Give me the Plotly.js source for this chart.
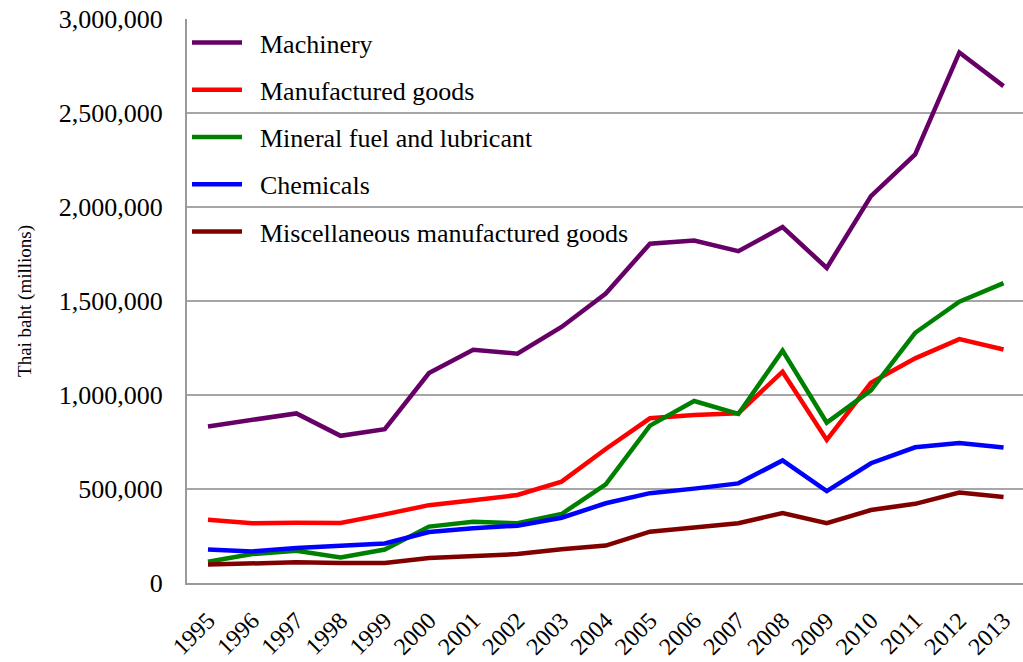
<!DOCTYPE html>
<html>
<head>
<meta charset="utf-8">
<script src="https://cdn.plot.ly/plotly-3.0.1.min.js"></script>
<style>
html,body{margin:0;padding:0;background:#fff;}
#chart{width:1023px;height:662px;}
</style>
</head>
<body>
<div id="chart"></div>
<script>
var years = [1995,1996,1997,1998,1999,2000,2001,2002,2003,2004,2005,2006,2007,2008,2009,2010,2011,2012,2013];
var machinery = [833000,865000,902000,783000,818000,1117000,1240000,1220000,1362000,1540000,1805000,1822000,1765000,1893000,1676000,2058000,2280000,2822000,2643000];
var manufactured = [336000,318000,321000,319000,365000,414000,440000,468000,539000,713000,876000,894000,903000,1124000,761000,1065000,1195000,1297000,1242000];
var mineral = [113000,154000,172000,136000,178000,300000,326000,318000,367000,525000,837000,968000,899000,1236000,853000,1025000,1331000,1496000,1595000];
var chemicals = [178000,168000,186000,198000,210000,271000,291000,305000,347000,424000,478000,502000,530000,652000,489000,637000,722000,745000,721000];
var misc = [98000,102000,110000,107000,106000,133000,144000,154000,179000,199000,273000,296000,318000,372000,318000,388000,421000,481000,457000];

var seriesNames = ["Machinery","Manufactured goods","Mineral fuel and lubricant","Chemicals","Miscellaneous manufactured goods"];
var seriesValues = [machinery, manufactured, mineral, chemicals, misc];
var seriesColors = ["#660066","#ff0000","#008000","#0000ff","#800000"];

var traces = seriesNames.map(function(n,i){
  return {
    x: years, y: seriesValues[i], name: '\u00a0\u00a0' + n, type: 'scatter', mode: 'lines',
    legendgroup: 'g'+i,
    line: {color: seriesColors[i], width: 4.5}
  };
});

var font = "Liberation Serif";
var layout = {
  width: 1023, height: 662,
  margin: {l: 187, r: 0, t: 19, b: 79},
  paper_bgcolor: '#fff', plot_bgcolor: '#fff',
  font: {family: font, color: '#000', size: 26},
  showlegend: true,
  legend: {
    x: 0, y: 1, xanchor: 'left', yanchor: 'top',
    bgcolor: 'rgba(0,0,0,0)', borderwidth: 0,
    font: {family: font, size: 26, color: '#000'},
    itemwidth: 50, tracegroupgap: 10.5
  },
  xaxis: {
    type: 'linear',
    range: [1994.525, 2013.44],
    tickvals: years,
    ticktext: years.map(String),
    tickangle: -45,
    ticks: '',
    showgrid: false,
    zeroline: false,
    showline: true, linecolor: '#9a9a9a', linewidth: 2,
    tickfont: {family: font, size: 24, color: '#000'},
    ticklabelstandoff: 12
  },
  yaxis: {
    range: [0, 3000000],
    dtick: 500000,
    tickformat: ',d',
    ticks: '',
    showgrid: true, gridcolor: '#a6a6a6', gridwidth: 1.5,
    zeroline: false,
    showline: true, linecolor: '#9a9a9a', linewidth: 2,
    tickfont: {family: font, size: 26, color: '#000'},
    ticklabelstandoff: 17,
    title: {text: 'Thai baht (millions)', font: {family: font, size: 19, color: '#000'}, standoff: 22}
  }
};

Plotly.newPlot('chart', traces, layout, {displayModeBar: false, staticPlot: true});
</script>
</body>
</html>
